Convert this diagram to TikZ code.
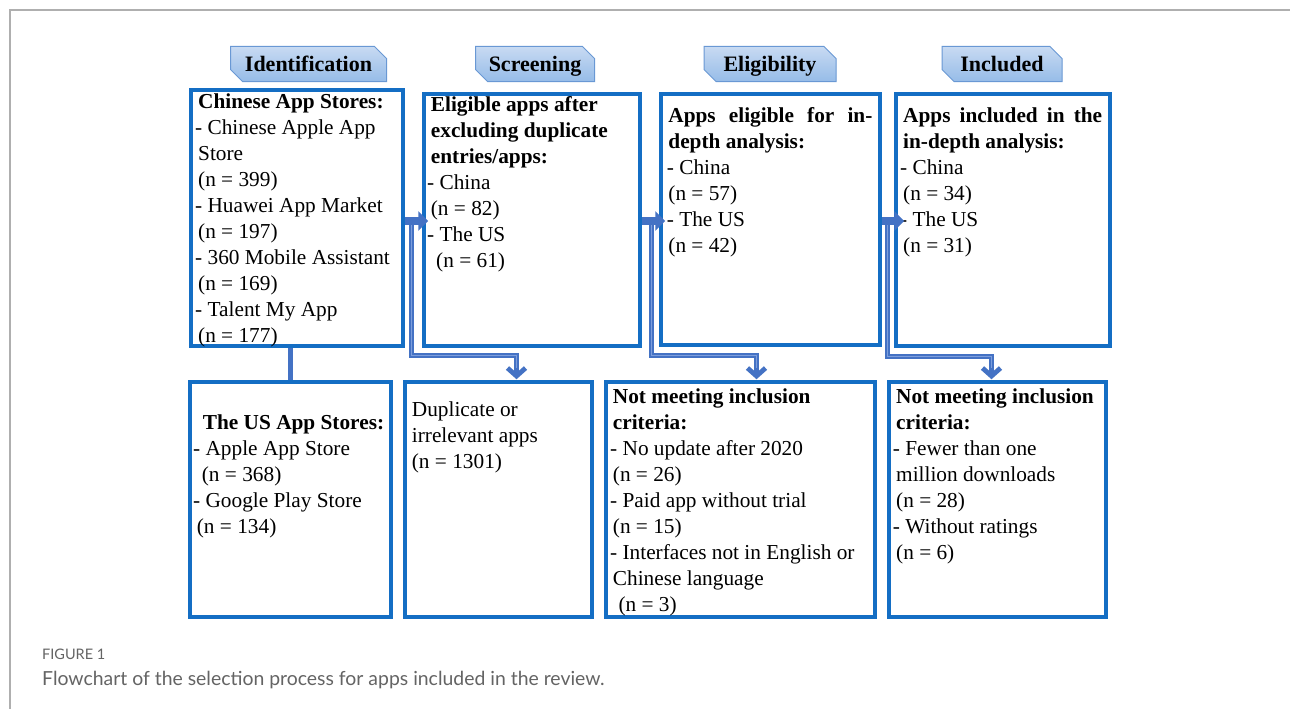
\documentclass[tikz,border=0pt]{standalone}
\usepackage{fontspec}
\setmainfont{Liberation Serif}
\newfontfamily\capfont{Lato}
\usetikzlibrary{arrows.meta,shapes.misc,calc}

\definecolor{boxblue}{RGB}{20,110,196}
\definecolor{linkblue}{RGB}{68,114,196}
\definecolor{linklight}{RGB}{125,158,220}
\definecolor{tabtop}{RGB}{200,218,242}
\definecolor{tabbot}{RGB}{150,188,232}
\definecolor{tabedge}{RGB}{105,152,212}
\definecolor{framegray}{RGB}{175,175,175}
\definecolor{capgray}{RGB}{100,100,100}

% strut that fixes the first baseline of every text block 16pt below its top
\newcommand\firststrut{\rule{0pt}{16pt}}

\begin{document}
\begin{tikzpicture}[x=1pt,y=-1pt,
  stage/.style={chamfered rectangle,
    chamfered rectangle corners={north east,south west},
    chamfered rectangle xsep=6pt, chamfered rectangle ysep=6pt,
    draw=tabedge, line width=1pt, top color=tabtop, bottom color=tabbot,
    inner sep=0pt, minimum height=35pt,
    font=\fontsize{22}{26}\selectfont\bfseries, text height=15pt, text depth=0pt},
  panel/.style={draw=boxblue, line width=3.5pt, inner sep=0pt},
  body/.style={anchor=north west, inner sep=0pt, align=left,
    font=\rmfamily\fontsize{21.3}{26}\selectfont},
  feed/.style={draw=linkblue, line width=8pt, -{Triangle[length=10pt,width=19pt]}},
  branch/.style={draw=linkblue, line width=4.8pt, -{Straight Barb[length=8pt,width=18pt]}},
  branchcore/.style={draw=linklight, line width=1pt},
  stem/.style={draw=linkblue, line width=4.5pt},
  ]

\useasboundingbox (0,0) rectangle (1290,709);
\fill[white] (0,0) rectangle (1290,709);

% page frame
\draw[framegray, line width=1.2pt] (10,709) -- (10,10) -- (1290,10);

% stage headers
\node[stage, minimum width=156pt] (hid) at (308.5,64) {Identification};
\node[stage, minimum width=119pt] (hsc) at (535,64) {Screening};
\node[stage, minimum width=132pt] (hel) at (770,64) {Eligibility};
\node[stage, minimum width=120pt] (hin) at (1002,64) {Included};

% upper row of boxes
\node[panel, minimum width=212pt, minimum height=256pt] (box1) at (297,218) {};
\node[panel, minimum width=216pt, minimum height=252pt] (box2) at (532,220) {};
\node[panel, minimum width=219pt, minimum height=251pt] (box3) at (770.5,219.5) {};
\node[panel, minimum width=214pt, minimum height=252pt] (box4) at (1003,220) {};

% lower row of boxes
\node[panel, minimum width=201pt, minimum height=235pt] (low1) at (290.5,499.5) {};
\node[panel, minimum width=187pt, minimum height=235pt] (low2) at (498.5,499.5) {};
\node[panel, minimum width=269pt, minimum height=235pt] (low3) at (740.5,499.5) {};
\node[panel, minimum width=217pt, minimum height=235pt] (low4) at (997.5,499.5) {};

% box texts
\node[body] (t1) at (195,92) {\firststrut\hspace*{3pt}\textbf{Chinese App Stores:}\\
- Chinese Apple App\\
\hspace*{3pt}Store\\
\hspace*{3pt}(n = 399)\\
- Huawei App Market\\
\hspace*{3pt}(n = 197)\\
- 360 Mobile Assistant\\
\hspace*{3pt}(n = 169)\\
- Talent My App\\
\hspace*{3pt}(n = 177)};

\node[body] (t2) at (427,95) {\firststrut\hspace*{3.7pt}\textbf{Eligible apps after}\\
\hspace*{3.7pt}\textbf{excluding duplicate}\\
\hspace*{3.7pt}\textbf{entries/apps:}\\
- China\\
\hspace*{3.7pt}(n = 82)\\
- The US\\
\hspace*{9pt}(n = 61)};

\node[body] (t3) at (666.7,106) {\firststrut\hspace*{1.5pt}\makebox[204pt][s]{\bfseries Apps eligible for in-}\\
\hspace*{1.5pt}\textbf{depth analysis:}\\
- China\\
\hspace*{1.5pt}(n = 57)\\
- The US\\
\hspace*{1.5pt}(n = 42)};

\node[body] (t4) at (900,106.7) {\firststrut\hspace*{3pt}\makebox[199pt][s]{\bfseries Apps included in the}\\
\hspace*{3pt}\textbf{in-depth analysis:}\\
- China\\
\hspace*{3pt}(n = 34)\\
- The US\\
\hspace*{3pt}(n = 31)};

\node[body] (u1) at (193,413) {\firststrut\hspace*{9.7pt}\textbf{The US App Stores:}\\
- Apple App Store\\
\hspace*{8.7pt}(n = 368)\\
- Google Play Store\\
\hspace*{3.7pt}(n = 134)};

\node[body] (u2) at (411.7,400) {\firststrut Duplicate or\\
irrelevant apps\\
(n = 1301)};

\node[body] (u3) at (610,387.3) {\firststrut\hspace*{2.7pt}\textbf{Not meeting inclusion}\\
\hspace*{2.7pt}\textbf{criteria:}\\
- No update after 2020\\
\hspace*{2.7pt}(n = 26)\\
- Paid app without trial\\
\hspace*{2.7pt}(n = 15)\\
- Interfaces not in English or\\
\hspace*{2.7pt}Chinese language\\
\hspace*{8.3pt}(n = 3)};

\node[body] (u4) at (892.7,387) {\firststrut\hspace*{3.3pt}\textbf{Not meeting inclusion}\\
\hspace*{3.3pt}\textbf{criteria:}\\
- Fewer than one\\
\hspace*{3.3pt}million downloads\\
\hspace*{3.3pt}(n = 28)\\
- Without ratings\\
\hspace*{3.3pt}(n = 6)};

% Chinese stores to US stores
\draw[stem] (low1.north |- box1.south) -- (low1.north);

% exclusion branches
\coordinate (a1) at (box1.east |- 0,221);
\coordinate (a2) at (box2.east |- 0,221);
\coordinate (a3) at (box3.east |- 0,221);

\draw[branch] ($(a1)+(7,0)$) |- ($(low2.north)+(18,-25)$) -- ($(low2.north)+(18,-1)$);
\draw[branchcore] ($(a1)+(7,0)$) |- ($(low2.north)+(18,-25)$) -- ($(low2.north)+(18,-12)$);
\draw[branch] ($(a2)+(10,0)$) |- ($(low3.north)+(16,-25)$) -- ($(low3.north)+(16,-1)$);
\draw[branchcore] ($(a2)+(10,0)$) |- ($(low3.north)+(16,-25)$) -- ($(low3.north)+(16,-12)$);
\draw[branch] ($(a3)+(6,0)$) |- ($(low4.north)+(-6,-24)$) -- ($(low4.north)+(-6,-1)$);
\draw[branchcore] ($(a3)+(6,0)$) |- ($(low4.north)+(-6,-24)$) -- ($(low4.north)+(-6,-12)$);

% stage-to-stage arrows
\draw[feed] (a1) -- ($(a1 -| box2.west)+(6,0)$);
\draw[feed] (a2) -- ($(a2 -| box3.west)+(6,0)$);
\draw[feed] (a3) -- ($(a3 -| box4.west)+(10,0)$);

% caption
\node[anchor=base west, inner sep=0pt, text=capgray,
  font=\capfont\fontsize{14.5}{16}\selectfont] (figlabel) at (42,659) {FIGURE 1};
\node[anchor=base west, inner sep=0pt, text=capgray,
  font=\capfont\fontsize{19.4}{22}\selectfont] (figcaption) at (42,685)
  {Flowchart of the selection process for apps included in the review.};
\end{tikzpicture}
\end{document}
